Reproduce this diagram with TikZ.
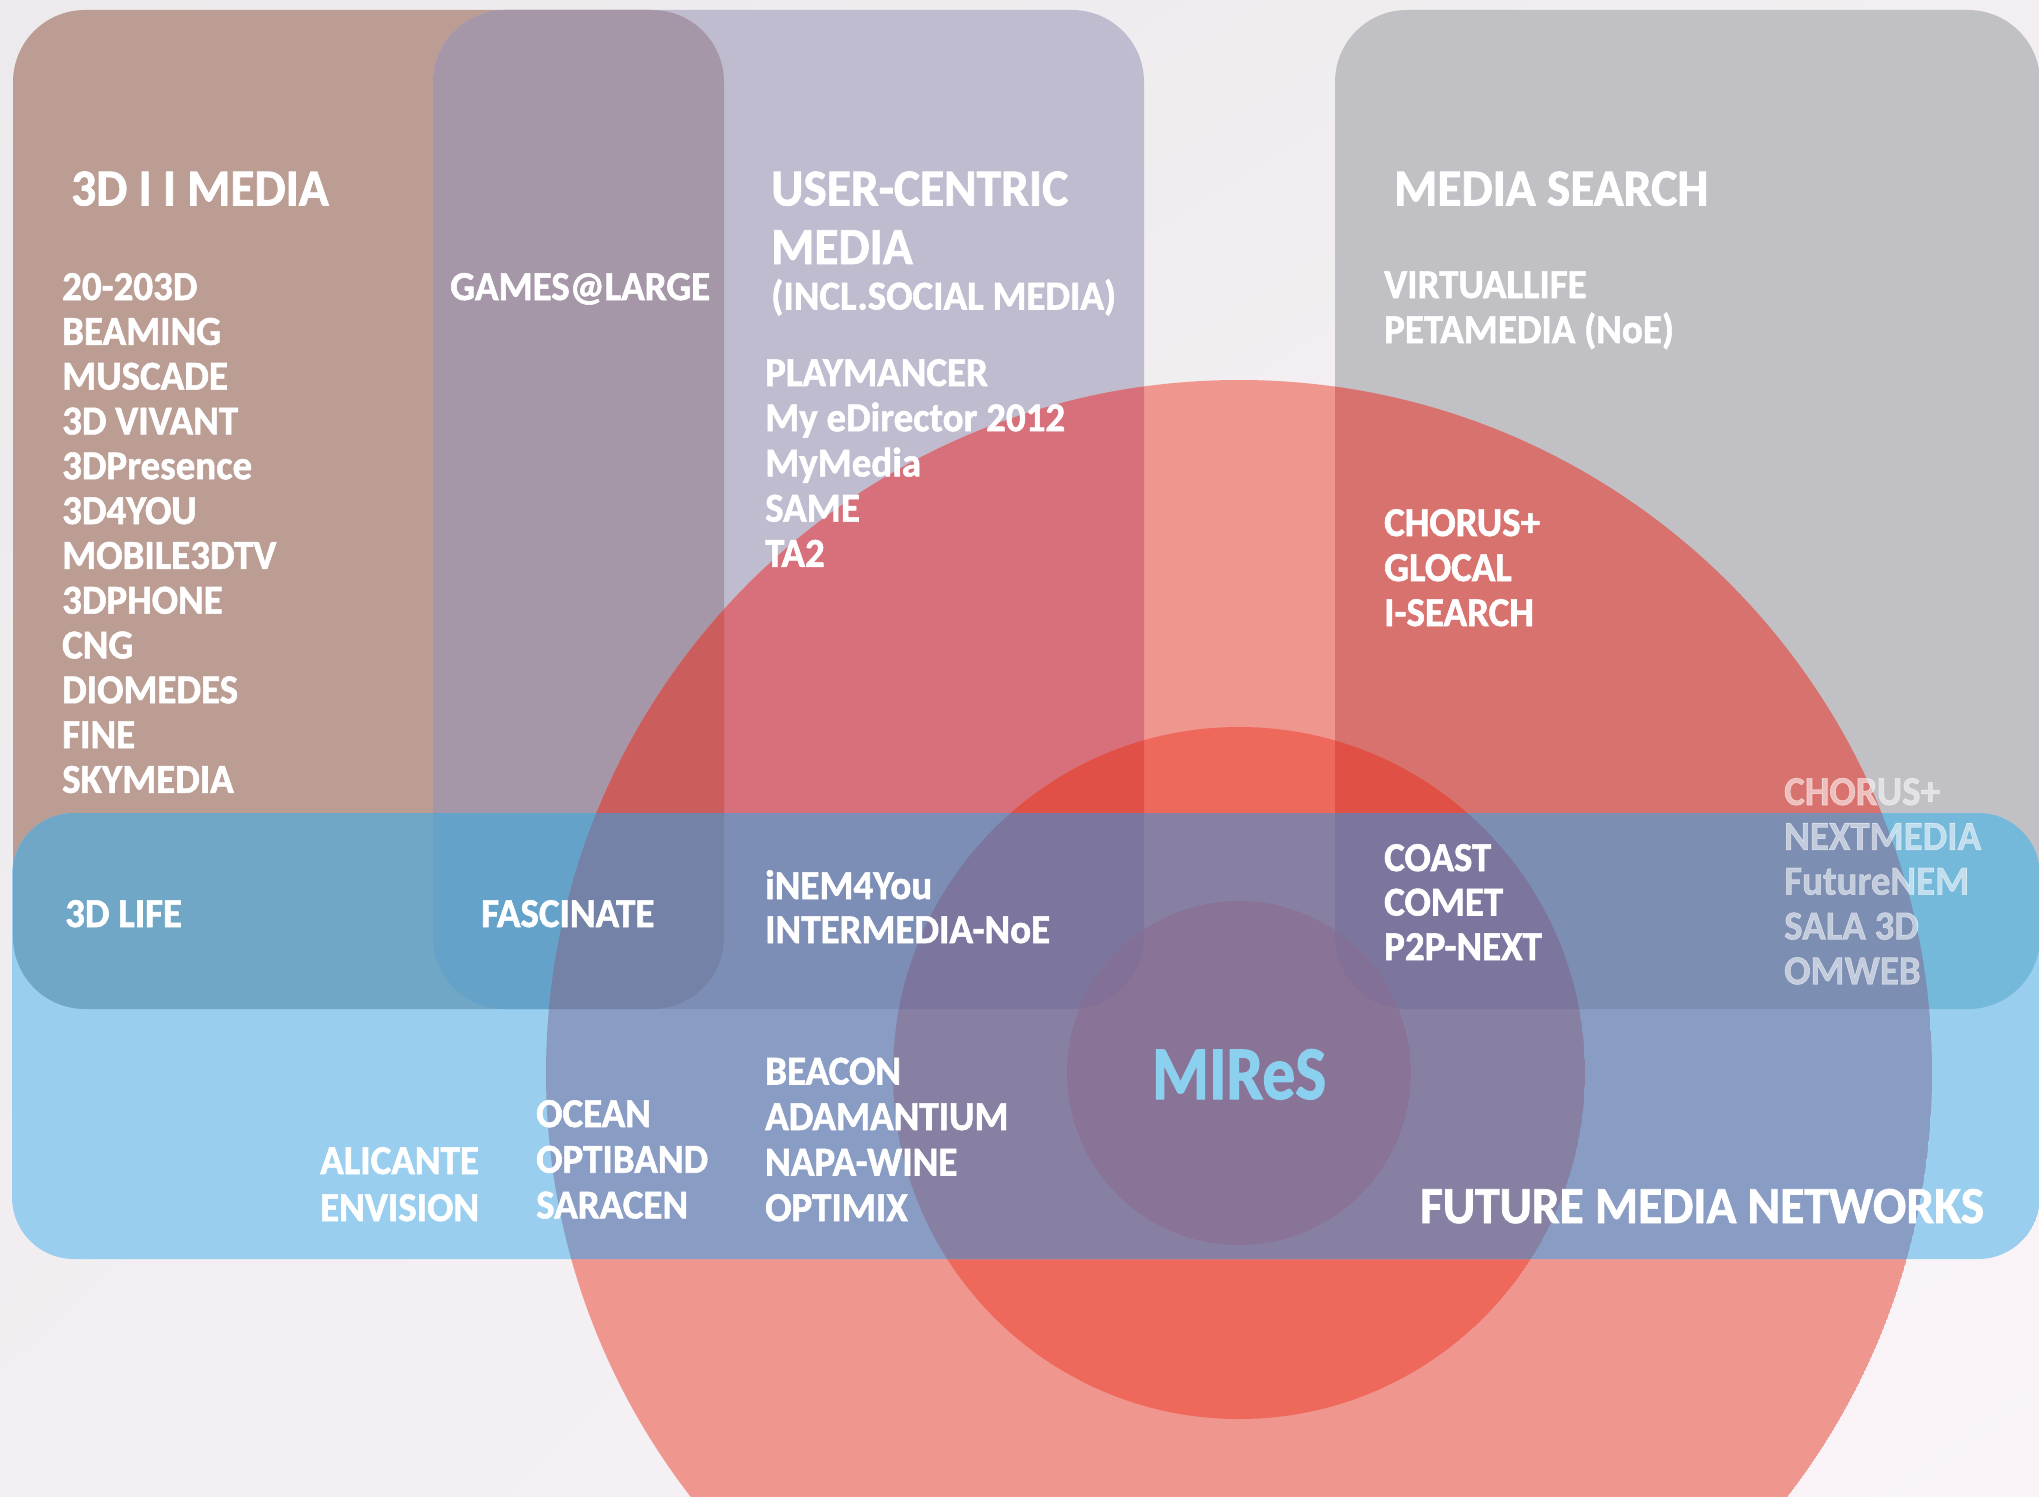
\documentclass[tikz,border=0pt]{standalone}
\usepackage{fontspec}
\usetikzlibrary{shadings}
\setmainfont{Carlito}[FakeStretch=0.95, FakeBold=1.4]
\newfontfamily\miresfont{Carlito}[FakeStretch=0.86, FakeBold=1.4]
\definecolor{bgA}{HTML}{ECEAEC}
\definecolor{bgB}{HTML}{FAF4F8}
\definecolor{bgC}{HTML}{F2EEF1}
\definecolor{colBrown}{HTML}{BB9D94}
\definecolor{colPurple}{HTML}{C0BCD0}
\definecolor{colGrey}{HTML}{C0C0C5}
\definecolor{colBP}{HTML}{A596A8}
\definecolor{rA}{HTML}{EF968E}
\definecolor{rAP}{HTML}{D7707A}
\definecolor{rABP}{HTML}{CB5E5C}
\definecolor{rAG}{HTML}{D8726E}
\definecolor{rB}{HTML}{EE685C}
\definecolor{rBP}{HTML}{E05046}
\definecolor{rBG}{HTML}{E05044}
\definecolor{lA}{HTML}{99CEEE}
\definecolor{lB}{HTML}{70A7C6}
\definecolor{lBP}{HTML}{64A2CA}
\definecolor{lG}{HTML}{74B8DA}
\definecolor{lR}{HTML}{899CC4}
\definecolor{lRP}{HTML}{7D8EB6}
\definecolor{lRBP}{HTML}{7382A6}
\definecolor{lRG}{HTML}{7C8EB2}
\definecolor{lS}{HTML}{8780A2}
\definecolor{lSC}{HTML}{7C769E}
\definecolor{lT}{HTML}{897497}
\definecolor{lTC}{HTML}{827096}
\definecolor{miresblue}{HTML}{8CD0F0}
\newcommand{\shapeBrown}{(13,10) rectangle (724,1009)}
\newcommand{\shapePurple}{(433,10) rectangle (1144,1009)}
\newcommand{\shapeGrey}{(1335,10) rectangle (2040,1009)}
\newcommand{\shapeBand}{(12,813) rectangle (2040,1259)}
\newcommand{\shapeRone}{(1239,1073) circle[radius=693]}
\newcommand{\shapeRtwo}{(1239,1073) circle[radius=346]}
\newcommand{\shapeRthree}{(1239,1073) circle[radius=172]}
\tikzset{
  colrc/.style={rounded corners=72pt},
  bandrc/.style={rounded corners=62pt},
  item/.style={text=white, font=\fontsize{41}{45}\selectfont\bfseries, anchor=base west, inner sep=0pt},
  head/.style={text=white, font=\fontsize{52}{56}\selectfont\bfseries, anchor=base west, inner sep=0pt},
  faded/.style={item, text opacity=0.55},
}
\begin{document}
\begin{tikzpicture}[x=1pt,y=-1pt]
\useasboundingbox (0,0) rectangle (2039,1496);
\clip (0,0) rectangle (2039,1496);
% background
\shade[upper left=bgA, upper right=bgC, lower left=bgC, lower right=bgB] (0,0) rectangle (2039,1496);
% columns
\fill[colBrown, colrc] \shapeBrown;
\fill[colPurple, colrc] \shapePurple;
\fill[colGrey, colrc] \shapeGrey;
\begin{scope}
  \clip[colrc] \shapeBrown;
  \fill[colBP, colrc] \shapePurple;
\end{scope}
% big circle
\begin{scope}
  \clip \shapeRone;
  \fill[rA] \shapeRone;
  \fill[rAP, colrc] \shapePurple;
  \begin{scope}
    \clip[colrc] \shapeBrown;
    \fill[rABP, colrc] \shapePurple;
  \end{scope}
  \fill[rAG, colrc] \shapeGrey;
\end{scope}
% middle circle
\begin{scope}
  \clip \shapeRtwo;
  \fill[rB] \shapeRtwo;
  \fill[rBP, colrc] \shapePurple;
  \fill[rBG, colrc] \shapeGrey;
\end{scope}
% band
\begin{scope}
  \clip[bandrc] \shapeBand;
  \fill[lA, bandrc] \shapeBand;
  \fill[lB, colrc] \shapeBrown;
  \begin{scope}
    \clip[colrc] \shapeBrown;
    \fill[lBP, colrc] \shapePurple;
  \end{scope}
  \fill[lG, colrc] \shapeGrey;
  \begin{scope}
    \clip \shapeRone;
    \fill[lR] \shapeRone;
    \fill[lRP, colrc] \shapePurple;
    \begin{scope}
      \clip[colrc] \shapeBrown;
      \fill[lRBP, colrc] \shapePurple;
    \end{scope}
    \fill[lRG, colrc] \shapeGrey;
  \end{scope}
  \begin{scope}
    \clip \shapeRtwo;
    \fill[lS] \shapeRtwo;
    \fill[lSC, colrc] \shapePurple;
    \fill[lSC, colrc] \shapeGrey;
  \end{scope}
  \begin{scope}
    \clip \shapeRthree;
    \fill[lT] \shapeRthree;
    \fill[lTC, colrc] \shapePurple;
    \fill[lTC, colrc] \shapeGrey;
  \end{scope}
\end{scope}
% headings
\node[head] (h3d) at (71,205.5) {3D I I MEDIA};
\node[head] (huc1) at (771,205.5) {USER-CENTRIC};
\node[head] (huc2) at (771,264) {MEDIA};
\node[item] (huc3) at (771,309.5) {(INCL.SOCIAL MEDIA)};
\node[head] (hms) at (1394,205.5) {MEDIA SEARCH};
% lists
\foreach \t [count=\i from 0] in {20-203D,BEAMING,MUSCADE,3D VIVANT,3DPresence,3D4YOU,MOBILE3DTV,3DPHONE,CNG,DIOMEDES,FINE,SKYMEDIA}
  \node[item] (brown\i) at (62,300+44.8*\i) {\t};
\node[item] (games) at (450,300) {GAMES@LARGE};
\foreach \t [count=\i from 0] in {PLAYMANCER,My eDirector 2012,MyMedia,SAME,TA2}
  \node[item] (uc\i) at (765,386+45.2*\i) {\t};
\foreach \t [count=\i from 0] in {VIRTUALLIFE,PETAMEDIA (NoE)}
  \node[item] (ms\i) at (1384,298+45*\i) {\t};
\foreach \t [count=\i from 0] in {CHORUS+,GLOCAL,I-SEARCH}
  \node[item] (msr\i) at (1384,536+45*\i) {\t};
\foreach \t [count=\i from 0] in {CHORUS+,NEXTMEDIA,FutureNEM,SALA 3D,OMWEB}
  \node[faded] (fd\i) at (1784,805+44.8*\i) {\t};
\node[item] (life) at (65,927) {3D LIFE};
\node[item] (fasc) at (481,927) {FASCINATE};
\foreach \t [count=\i from 0] in {iNEM4You,INTERMEDIA-NoE}
  \node[item] (inem\i) at (765,899+44*\i) {\t};
\foreach \t [count=\i from 0] in {COAST,COMET,P2P-NEXT}
  \node[item] (coast\i) at (1384,871+44.5*\i) {\t};
\foreach \t [count=\i from 0] in {BEACON,ADAMANTIUM,NAPA-WINE,OPTIMIX}
  \node[item] (beacon\i) at (765,1084.5+45.5*\i) {\t};
\foreach \t [count=\i from 0] in {OCEAN,OPTIBAND,SARACEN}
  \node[item] (ocean\i) at (536,1127+45.7*\i) {\t};
\foreach \t [count=\i from 0] in {ALICANTE,ENVISION}
  \node[item] (alic\i) at (320,1174+47*\i) {\t};
\node[text=miresblue, font=\miresfont\fontsize{76}{80}\selectfont\bfseries, anchor=base, inner sep=0pt] (mires) at (1239,1099) {MIReS};
\node[head] (fmn) at (1420,1223) {FUTURE MEDIA NETWORKS};
\end{tikzpicture}
\end{document}
